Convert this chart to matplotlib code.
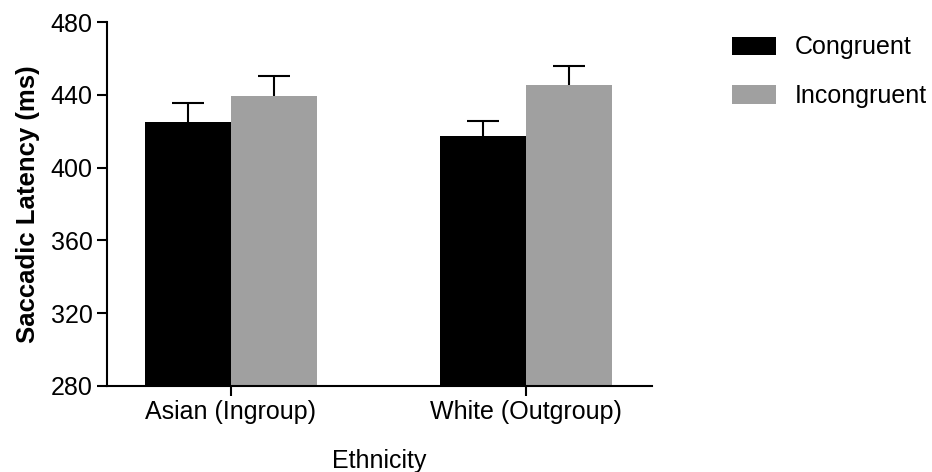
import numpy as np
import matplotlib
matplotlib.use("Agg")
from matplotlib import pyplot as plt

# data
groups = ['Asian (Ingroup)', 'White (Outgroup)']
conditions = ['Congruent', 'Incongruent']
congruent_mean = [425.1, 417.3]
congruent_sem = [10.7, 8.6]
incongruent_mean = [439.3, 445.3]
incongruent_sem = [11.3, 10.5]
y_ticks = [280, 320, 360, 400, 440, 480]

plt.rcParams['font.family'] = ['Liberation Sans', 'DejaVu Sans']

fig = plt.figure(figsize=(9.32, 4.72), dpi=100)
ax = fig.add_axes([0.1145, 0.1828, 0.5848, 0.770])

x = np.arange(len(groups))
w = 0.291
err_kw = dict(ecolor='black', elinewidth=1.5, capsize=11.5, capthick=1.5)

bars = []
bars.append(ax.bar(x - w / 2, congruent_mean, w, color='black', label=conditions[0],
                   yerr=[np.zeros(len(groups)), congruent_sem], error_kw=err_kw, zorder=2))
bars.append(ax.bar(x + w / 2, incongruent_mean, w, color='#a0a0a0', label=conditions[1],
                   yerr=[np.zeros(len(groups)), incongruent_sem], error_kw=err_kw, zorder=2))
# only the upper cap is shown
for b in bars:
    caps = b.errorbar.lines[1]
    caps[0].set_visible(False)

ax.set_ylim(280, 480)
ax.set_xlim(-0.42, 1.426)
ax.set_yticks(y_ticks)
ax.set_xticks(x)
ax.set_xticklabels(groups)
ax.tick_params(axis='both', labelsize=18, width=1.5, length=7, pad=3, colors='black')
ax.set_ylabel('Saccadic Latency (ms)', fontsize=18.5, fontweight='bold', labelpad=8)
ax.set_xlabel('Ethnicity', fontsize=18, labelpad=18)

for s in ['top', 'right']:
    ax.spines[s].set_visible(False)
for s in ['left', 'bottom']:
    ax.spines[s].set_linewidth(1.5)

fig.legend(loc='upper left', bbox_to_anchor=(0.775, 0.946), frameon=False,
           fontsize=18, handlelength=1.76, handleheight=0.76,
           handletextpad=0.75, labelspacing=0.98, borderaxespad=0)

fig.savefig('out.png', dpi=100)
